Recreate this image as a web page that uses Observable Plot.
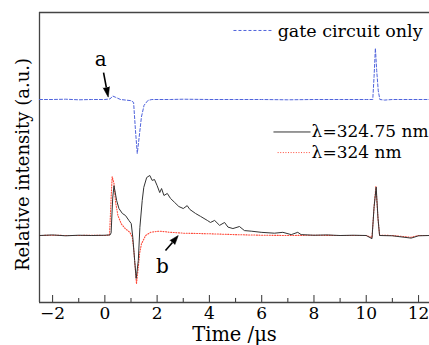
<!DOCTYPE html>
<html><head><meta charset="utf-8">
<script src="https://cdn.jsdelivr.net/npm/d3@7"></script>
<script src="https://cdn.jsdelivr.net/npm/@observablehq/plot@0.6"></script>
<style>body{margin:0;background:#fff}</style>
</head><body><div id="chart"></div>
<script>
// gate circuit only (blue dashed)
const gateT = [-2.5,-2,-1.5,-1,-0.5,0,0.2,0.3,0.4,0.6,0.8,1.0,1.1,1.17,1.24,1.3,1.4,1.5,1.65,1.8,2.5,3,4,5,6,7,8,9,10,10.25,10.3,10.35,10.4,10.46,10.52,10.7,11,12,12.42];
const gateV = [7.0,7.0,7.01,6.99,7.0,7.0,7.02,7.12,7.08,7.0,6.98,6.96,6.9,5.95,5.14,5.6,6.4,6.8,6.97,7.0,7.0,7.01,7.0,7.0,7.0,6.99,7.0,7.0,7.0,7.0,7.8,8.77,8.0,7.3,7.0,6.98,7.0,7.0,7.0];
// λ = 324.75 nm (solid)
const l32475T = [-2.5,-2.0,-1.5,-1.0,-0.5,0.0,0.2,0.24,0.3,0.35,0.45,0.54,0.67,0.79,0.92,1.01,1.07,1.14,1.2,1.28,1.34,1.43,1.49,1.6,1.72,1.81,1.9,2.0,2.1,2.17,2.26,2.39,2.51,2.67,2.83,3.0,3.15,3.25,3.47,3.66,3.92,4.04,4.2,4.39,4.58,4.71,4.9,5.15,5.34,5.6,5.98,6.49,6.81,7.13,7.38,7.51,8.0,8.5,9.0,9.5,10.0,10.22,10.3,10.38,10.45,10.51,11.0,11.72,12.0,12.42];
const l32475V = [2.31,2.33,2.30,2.32,2.31,2.32,2.33,2.4,3.6,4.03,3.52,3.24,3.07,3.0,2.83,2.72,2.24,1.45,0.83,1.45,2.59,3.52,3.97,4.31,4.38,4.21,4.24,4.03,3.79,3.93,3.69,3.76,3.59,3.45,3.31,3.24,3.34,3.21,3.07,2.97,2.83,2.76,2.83,2.66,2.76,2.6,2.55,2.62,2.48,2.46,2.42,2.39,2.42,2.34,2.42,2.34,2.32,2.33,2.31,2.32,2.31,2.2,3.3,3.98,2.9,2.31,2.30,2.22,2.30,2.31];
// λ = 324 nm (red dotted)
const l324T = [-2.5,-2,-1.5,-1,-0.5,0,0.18,0.24,0.28,0.35,0.41,0.5,0.63,0.79,0.96,1.05,1.11,1.17,1.21,1.28,1.33,1.4,1.56,1.75,2.07,2.51,3.02,4,5,6,7,8,9,10,10.22,10.3,10.37,10.45,10.51,11,11.72,12,12.42];
const l324V = [2.31,2.32,2.31,2.31,2.32,2.31,2.33,3.6,4.34,4.1,3.46,3.0,2.71,2.54,2.42,2.25,1.79,1.1,0.64,1.22,1.69,2.02,2.31,2.42,2.46,2.42,2.39,2.37,2.34,2.32,2.31,2.32,2.31,2.31,2.24,3.3,4.0,2.9,2.32,2.31,2.25,2.31,2.31];

const majorTicks = [-2,0,2,4,6,8,10,12];
const minorTicks = [-1,1,3,5,7,9,11];
const legendLabels = ["gate circuit only", "λ=324.75 nm", "λ=324 nm"];
const xLabel = "Time /μs";
const yLabel = "Relative intensity (a.u.)";

const rows = (T, V) => T.map((t, i) => ({t, v: V[i]}));
const gate = rows(gateT, gateV);
const solid = rows(l32475T, l32475V);
const red = rows(l324T, l324V);

const FONT = "DejaVu Serif";
const BLUE = "#4f63dc", RED = "#ff4a3a", DARK = "#333";

// annotation arrows: shaft (tail -> head base) + filled spike head
const arrowA = {x1: -0.05, y1: 7.93, x2: 0.057, y2: 7.42, angle: 169};
const arrowB = {x1: 2.32, y1: 1.79, x2: 2.586, y2: 2.07, angle: 40};

const chart = Plot.plot({
  width: 429, height: 345,
  marginLeft: 39, marginRight: 0, marginTop: 12, marginBottom: 43,
  x: {domain: [-2.5, 12.42]},
  y: {domain: [0, 10], axis: null},
  style: {fontFamily: FONT, background: "white", color: "black"},
  marks: [
    Plot.ruleX([-2.5], {y1: 0, y2: 10, stroke: "#444", strokeWidth: 1.3}),
    Plot.ruleY([0, 10], {stroke: "#444", strokeWidth: 1.3}),
    Plot.ruleX(majorTicks, {y1: 0, y2: 0.24, stroke: "#444", strokeWidth: 1.1}),
    Plot.ruleX(minorTicks, {y1: 0, y2: 0.14, stroke: "#444", strokeWidth: 1.1}),
    Plot.axisX({ticks: majorTicks, tickSize: 0, tickPadding: 4, fontSize: 17, fontFamily: FONT, label: null,
      tickFormat: d => d < 0 ? "\u2212" + Math.abs(d) : String(d)}),
    Plot.line(gate, {x: "t", y: "v", stroke: BLUE, strokeWidth: 1, strokeDasharray: "3,2"}),
    Plot.line(red, {x: "t", y: "v", stroke: RED, strokeWidth: 1.1, strokeDasharray: "1,1.6"}),
    Plot.line(solid, {x: "t", y: "v", stroke: DARK, strokeWidth: 1}),
    // legend
    Plot.link([{x1: 4.92, x2: 6.38, y: 9.38}], {x1: "x1", x2: "x2", y1: "y", y2: "y", stroke: BLUE, strokeDasharray: "3,2"}),
    Plot.text([{x: 6.61, y: 9.35}], {x: "x", y: "y", text: () => legendLabels[0], textAnchor: "start", fontSize: 17.5, fontFamily: FONT}),
    Plot.link([{x1: 6.45, x2: 7.87, y: 5.88}], {x1: "x1", x2: "x2", y1: "y", y2: "y", stroke: DARK}),
    Plot.text([{x: 7.91, y: 5.9}], {x: "x", y: "y", text: () => legendLabels[1], textAnchor: "start", fontSize: 17, fontFamily: FONT}),
    Plot.link([{x1: 6.61, x2: 7.87, y: 5.17}], {x1: "x1", x2: "x2", y1: "y", y2: "y", stroke: RED, strokeDasharray: "1,1.6"}),
    Plot.text([{x: 7.91, y: 5.17}], {x: "x", y: "y", text: () => legendLabels[2], textAnchor: "start", fontSize: 17, fontFamily: FONT}),
    // annotations
    Plot.text([{x: -0.16, y: 8.36, s: "a"}], {x: "x", y: "y", text: "s", fontSize: 20, fontFamily: FONT}),
    Plot.link([arrowA], {x1: "x1", y1: "y1", x2: "x2", y2: "y2", stroke: "black", strokeWidth: 1.6}),
    Plot.vector([arrowA], {x: "x2", y: "y2", rotate: "angle", length: 10, r: 3.2, shape: "spike", anchor: "start", fill: "black", stroke: "black", strokeWidth: 0.5}),
    Plot.text([{x: 2.2, y: 1.24, s: "b"}], {x: "x", y: "y", text: "s", fontSize: 20, fontFamily: FONT}),
    Plot.link([arrowB], {x1: "x1", y1: "y1", x2: "x2", y2: "y2", stroke: "black", strokeWidth: 1.6}),
    Plot.vector([arrowB], {x: "x2", y: "y2", rotate: "angle", length: 9, r: 3.2, shape: "spike", anchor: "start", fill: "black", stroke: "black", strokeWidth: 0.5}),
    // axis titles
    Plot.text([{x: 4.96, y: -1.1}], {x: "x", y: "y", text: () => xLabel, fontSize: 19.5, fontFamily: FONT}),
    Plot.text([{x: -3.11, y: 4.76}], {x: "x", y: "y", text: () => yLabel, rotate: -90, fontSize: 18, fontFamily: FONT})
  ]
});
document.getElementById("chart").appendChild(chart);
</script>
</body></html>
